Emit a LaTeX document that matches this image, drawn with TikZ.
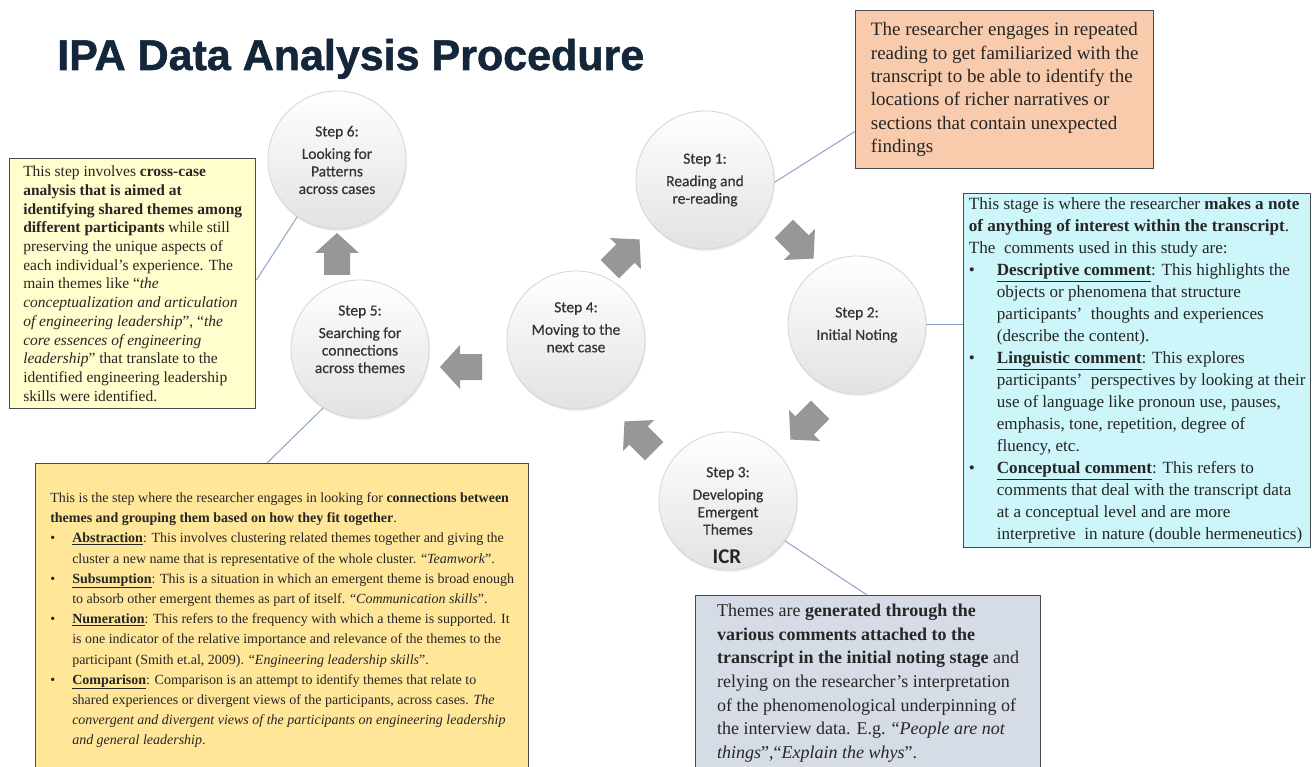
\documentclass[tikz,border=0pt]{standalone}
\usepackage{fontspec}
\setmainfont{Liberation Serif}
\newfontface\titleface{Liberation Sans Bold}[FakeBold=1.2]
\newfontface\stepface{Carlito}[FakeBold=0.4]
\newfontface\icrface{Carlito Bold}
\usetikzlibrary{shadows,calc}

\definecolor{titlecol}{HTML}{14263A}
\definecolor{salmon}{HTML}{F8CBAD}
\definecolor{cyanbox}{HTML}{CCF6FA}
\definecolor{yellowbox}{HTML}{FFFECC}
\definecolor{goldbox}{HTML}{FFE699}
\definecolor{slatebox}{HTML}{D6DCE5}
\definecolor{boxedge}{HTML}{4A4A4A}
\definecolor{connblue}{HTML}{8FA3C9}
\definecolor{arrowgray}{HTML}{979797}
\definecolor{circedge}{HTML}{D4D4D4}
\definecolor{circbot}{HTML}{E2E2E2}
\definecolor{steptext}{HTML}{333333}
\definecolor{bodytext}{HTML}{262626}

\newcommand{\bul}[1][30pt]{\makebox[#1][l]{\textbullet}}
\newcommand{\ind}[1][30pt]{\hspace*{#1}}
% a chunky block arrow drawn around a named point, turned by the given angle
\newcommand{\blockarrow}[2]{%
  \fill[arrowgray, shift={(#1)}, rotate=#2]
    (-20,-13) -- (2,-13) -- (2,-22) -- (22,0) -- (2,22) -- (2,13) -- (-20,13) -- cycle;}

\begin{document}
\begin{tikzpicture}[x=1pt,y=-1pt,
  stepcircle/.style={circle, minimum size=138pt, inner sep=0pt,
    draw=circedge, line width=0.8pt, top color=white, bottom color=circbot,
    drop shadow={opacity=0.14, shadow xshift=1pt, shadow yshift=-2pt},
    font=\stepface\fontsize{15.5}{17.5}\selectfont, text=steptext, align=center},
  note/.style={draw=boxedge, line width=1.4pt, anchor=north west, align=left,
    text=bodytext, inner sep=0pt},
  conn/.style={draw=connblue, line width=1pt}]

\useasboundingbox (0,0) rectangle (1312,767);
\clip (0,0) rectangle (1312,767);
\fill[white] (0,0) rectangle (1312,767);

% heading
\node[anchor=base west, inner sep=0pt, text=titlecol,
  font=\titleface\fontsize{43}{43}\selectfont] (title) at (57,70)
  {IPA Data Analysis Procedure};

% the six steps of the cycle
\node[stepcircle] (s6) at (337,160) {Step 6:\\[5pt]Looking for\\Patterns\\across cases};
\node[stepcircle] (s1) at (705,180) {Step 1:\\[5pt]Reading and\\re-reading};
\node[stepcircle] (s2) at (857,325) {Step 2:\\[5pt]Initial Noting};
\node[stepcircle] (s3) at (728,501) {Step 3:\\[5pt]Developing\\Emergent\\Themes};
\node[font=\icrface\fontsize{21}{21}\selectfont, text=black!85, inner sep=0pt]
  (icr) at (727,557) {ICR};
\node[stepcircle] (s4) at (576,340) {Step 4:\\[5pt]Moving to the\\next case\\[8pt]};
\node[stepcircle] (s5) at (360,349) {Step 5:\\[5pt]Searching for\\connections\\across themes\\[2pt]};

% block arrows between the steps
\coordinate (a12) at (798,243);
\coordinate (a23) at (806,424);
\coordinate (a34) at (640,437);
\coordinate (a45) at (462,367);
\coordinate (a56) at (337,255);
\coordinate (a41) at (624,255);
\blockarrow{a12}{-45}
\blockarrow{a23}{-135}
\blockarrow{a34}{135}
\blockarrow{a45}{180}
\blockarrow{a56}{90}
\blockarrow{a41}{45}

% explanatory notes
\node[note, fill=salmon, minimum width=298pt, minimum height=158pt,
  font=\fontsize{19}{23.3}\selectfont] (n1) at (855,10)
{The researcher engages in repeated\\
reading to get familiarized with the\\
transcript to be able to identify the\\
locations of richer narratives or\\
sections that contain unexpected\\
findings};

\node[note, fill=cyanbox, minimum width=347pt, minimum height=354pt,
  font=\fontsize{17.1}{22}\selectfont] (n2) at (963,193)
{This stage is where the researcher \textbf{makes a note}\\
\textbf{of anything of interest within the transcript}.\\
The\ \ comments used in this study are:\\
\bul[28pt]\underline{\textbf{Descriptive comment}}: This highlights the\\
\ind[28pt]objects or phenomena that structure\\
\ind[28pt]participants'\ \ thoughts and experiences\\
\ind[28pt](describe the content).\\
\bul[28pt]\underline{\textbf{Linguistic comment}}: This explores\\
\ind[28pt]participants'\ \ perspectives by looking at their\\
\ind[28pt]use of language like pronoun use, pauses,\\
\ind[28pt]emphasis, tone, repetition, degree of\\
\ind[28pt]fluency, etc.\\
\bul[28pt]\underline{\textbf{Conceptual comment}}: This refers to\\
\ind[28pt]comments that deal with the transcript data\\
\ind[28pt]at a conceptual level and are more\\
\ind[28pt]interpretive\ \ in nature (double hermeneutics)};

\node[note, fill=yellowbox, minimum width=246pt, minimum height=250pt,
  font=\fontsize{15.5}{18.7}\selectfont] (n6) at (9,158)
{This step involves \textbf{cross-case}\\
\textbf{analysis that is aimed at}\\
\textbf{identifying shared themes among}\\
\textbf{different participants} while still\\
preserving the unique aspects of\\
each individual's experience. The\\
main themes like ``\textit{the}\\
\textit{conceptualization and articulation}\\
\textit{of engineering leadership}'', ``\textit{the}\\
\textit{core essences of engineering}\\
\textit{leadership}'' that translate to the\\
identified engineering leadership\\
skills were identified.};

\node[note, fill=goldbox, minimum width=493pt, minimum height=313pt,
  font=\fontsize{14}{20.2}\selectfont] (n5) at (35,463)
{This is the step where the researcher engages in looking for \textbf{connections between}\\
\textbf{themes and grouping them based on how they fit together}.\\
\bul[22pt]\underline{\textbf{Abstraction}}: This involves clustering related themes together and giving the\\
\ind[22pt]cluster a new name that is representative of the whole cluster. ``\textit{Teamwork}''.\\
\bul[22pt]\underline{\textbf{Subsumption}}: This is a situation in which an emergent theme is broad enough\\
\ind[22pt]to absorb other emergent themes as part of itself. ``\textit{Communication skills}''.\\
\bul[22pt]\underline{\textbf{Numeration}}: This refers to the frequency with which a theme is supported. It\\
\ind[22pt]is one indicator of the relative importance and relevance of the themes to the\\
\ind[22pt]participant (Smith et.al, 2009). ``\textit{Engineering leadership skills}''.\\
\bul[22pt]\underline{\textbf{Comparison}}: Comparison is an attempt to identify themes that relate to\\
\ind[22pt]shared experiences or divergent views of the participants, across cases. \textit{The}\\
\ind[22pt]\textit{convergent and divergent views of the participants on engineering leadership}\\
\ind[22pt]\textit{and general leadership}.};

\node[note, fill=slatebox, minimum width=345pt, minimum height=175pt,
  font=\fontsize{18}{23.6}\selectfont] (n3) at (695,595)
{Themes are \textbf{generated through the}\\
\textbf{various comments attached to the}\\
\textbf{transcript in the initial noting stage} and\\
relying on the researcher's interpretation\\
of the phenomenological underpinning of\\
the interview data. E.g. ``\textit{People are not}\\
\textit{things}'',``\textit{Explain the whys}''.};

% leader lines from the steps to their notes
\draw[conn] (s1.-2) -- ($(n1.south west)+(0,-38)$);
\draw[conn] (s2.east) -- (s2.east -| n2.west);
\draw[conn] (s6.235) -- ($(n6.north east)+(0,122)$);
\draw[conn] (s5.238) -- ($(n5.north west)+(232,0)$);
\draw[conn] (s3.-35) -- ($(n3.north west)+(172,0)$);

\end{tikzpicture}
\end{document}
